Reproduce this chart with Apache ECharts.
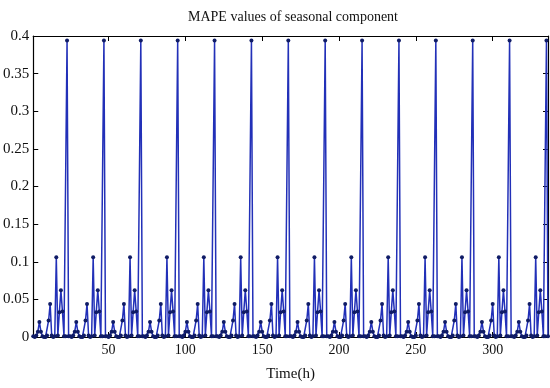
<!DOCTYPE html>
<html>
<head>
<meta charset="utf-8">
<script src="https://cdn.jsdelivr.net/npm/echarts@6/dist/echarts.min.js"></script>
<style>html,body{margin:0;padding:0;background:#fff}#c{width:550px;height:388px}</style>
</head>
<body>
<div id="c"></div>
<script>
// MAPE values (x = 1..336 hours), one row per 24 h
const day01 = [0.001,0.000,0.002,0.007,0.020,0.007,0.001,0.000,0.000,0.002,0.022,0.044,0.002,0.000,0.001,0.106,0.002,0.033,0.062,0.034,0.001,0.001,0.394,0.001];
const day02 = [0.001,0.000,0.002,0.007,0.020,0.007,0.001,0.000,0.000,0.002,0.022,0.044,0.002,0.000,0.001,0.106,0.002,0.033,0.062,0.034,0.001,0.001,0.394,0.001];
const day03 = [0.001,0.000,0.002,0.007,0.020,0.007,0.001,0.000,0.000,0.002,0.022,0.044,0.002,0.000,0.001,0.106,0.002,0.033,0.062,0.034,0.001,0.001,0.394,0.001];
const day04 = [0.001,0.000,0.002,0.007,0.020,0.007,0.001,0.000,0.000,0.002,0.022,0.044,0.002,0.000,0.001,0.106,0.002,0.033,0.062,0.034,0.001,0.001,0.394,0.001];
const day05 = [0.001,0.000,0.002,0.007,0.020,0.007,0.001,0.000,0.000,0.002,0.022,0.044,0.002,0.000,0.001,0.106,0.002,0.033,0.062,0.034,0.001,0.001,0.394,0.001];
const day06 = [0.001,0.000,0.002,0.007,0.020,0.007,0.001,0.000,0.000,0.002,0.022,0.044,0.002,0.000,0.001,0.106,0.002,0.033,0.062,0.034,0.001,0.001,0.394,0.001];
const day07 = [0.001,0.000,0.002,0.007,0.020,0.007,0.001,0.000,0.000,0.002,0.022,0.044,0.002,0.000,0.001,0.106,0.002,0.033,0.062,0.034,0.001,0.001,0.394,0.001];
const day08 = [0.001,0.000,0.002,0.007,0.020,0.007,0.001,0.000,0.000,0.002,0.022,0.044,0.002,0.000,0.001,0.106,0.002,0.033,0.062,0.034,0.001,0.001,0.394,0.001];
const day09 = [0.001,0.000,0.002,0.007,0.020,0.007,0.001,0.000,0.000,0.002,0.022,0.044,0.002,0.000,0.001,0.106,0.002,0.033,0.062,0.034,0.001,0.001,0.394,0.001];
const day10 = [0.001,0.000,0.002,0.007,0.020,0.007,0.001,0.000,0.000,0.002,0.022,0.044,0.002,0.000,0.001,0.106,0.002,0.033,0.062,0.034,0.001,0.001,0.394,0.001];
const day11 = [0.001,0.000,0.002,0.007,0.020,0.007,0.001,0.000,0.000,0.002,0.022,0.044,0.002,0.000,0.001,0.106,0.002,0.033,0.062,0.034,0.001,0.001,0.394,0.001];
const day12 = [0.001,0.000,0.002,0.007,0.020,0.007,0.001,0.000,0.000,0.002,0.022,0.044,0.002,0.000,0.001,0.106,0.002,0.033,0.062,0.034,0.001,0.001,0.394,0.001];
const day13 = [0.001,0.000,0.002,0.007,0.020,0.007,0.001,0.000,0.000,0.002,0.022,0.044,0.002,0.000,0.001,0.106,0.002,0.033,0.062,0.034,0.001,0.001,0.394,0.001];
const day14 = [0.001,0.000,0.002,0.007,0.020,0.007,0.001,0.000,0.000,0.002,0.022,0.044,0.002,0.000,0.001,0.106,0.002,0.033,0.062,0.034,0.001,0.001,0.394,0.001];
const xTicks = [50, 100, 150, 200, 250, 300];
const yTicks = [0, 0.05, 0.1, 0.15, 0.2, 0.25, 0.3, 0.35, 0.4];

const mape = [].concat(day01, day02, day03, day04, day05, day06, day07, day08, day09, day10, day11, day12, day13, day14);
const seriesData = mape.map((v, i) => [i + 1, v]);

const font = 'Liberation Serif';
const chart = echarts.init(document.getElementById('c'), null, {renderer: 'canvas'});
const axisLine = {show: true, onZero: false, lineStyle: {color: '#000', width: 1.2}};
chart.setOption({
  animation: false,
  backgroundColor: '#fff',
  title: {
    text: 'MAPE values of seasonal component',
    left: 288, top: 5, textAlign: 'center',
    textStyle: {fontFamily: font, fontSize: 14, fontWeight: 'normal', color: '#111'}
  },
  grid: {left: 33, right: 2, top: 36, bottom: 51, containLabel: false},
  xAxis: [{
    type: 'value', min: 1, max: 336, position: 'bottom',
    name: 'Time(h)', nameLocation: 'middle', nameGap: 30,
    nameTextStyle: {fontFamily: font, fontSize: 15, color: '#111'},
    axisLine: axisLine,
    axisTick: {show: true, inside: true, length: 5, customValues: xTicks, lineStyle: {color: '#000'}},
    axisLabel: {customValues: xTicks, fontFamily: font, fontSize: 14, color: '#111', margin: 6},
    splitLine: {show: false}
  }, {
    type: 'value', min: 1, max: 336, position: 'top',
    axisLine: axisLine,
    axisTick: {show: true, inside: true, length: 5, customValues: xTicks, lineStyle: {color: '#000'}},
    axisLabel: {show: false, customValues: xTicks},
    splitLine: {show: false}
  }],
  yAxis: [{
    type: 'value', min: 0, max: 0.4, position: 'left',
    axisLine: axisLine,
    axisTick: {show: true, inside: true, length: 5, customValues: yTicks, lineStyle: {color: '#000'}},
    axisLabel: {customValues: yTicks, fontFamily: font, fontSize: 15, color: '#111', margin: 4,
      formatter: v => String(+v.toFixed(2))},
    splitLine: {show: false}
  }, {
    type: 'value', min: 0, max: 0.4, position: 'right',
    axisLine: axisLine,
    axisTick: {show: true, inside: true, length: 5, customValues: yTicks, lineStyle: {color: '#000'}},
    axisLabel: {show: false, customValues: yTicks},
    splitLine: {show: false}
  }],
  series: [{
    type: 'line', xAxisIndex: 0, yAxisIndex: 0,
    data: seriesData,
    symbol: 'circle', symbolSize: 4, showAllSymbol: true,
    lineStyle: {color: '#2230b8', width: 1.5},
    itemStyle: {color: '#101c66'},
    clip: true
  }]
});
</script>
</body>
</html>
